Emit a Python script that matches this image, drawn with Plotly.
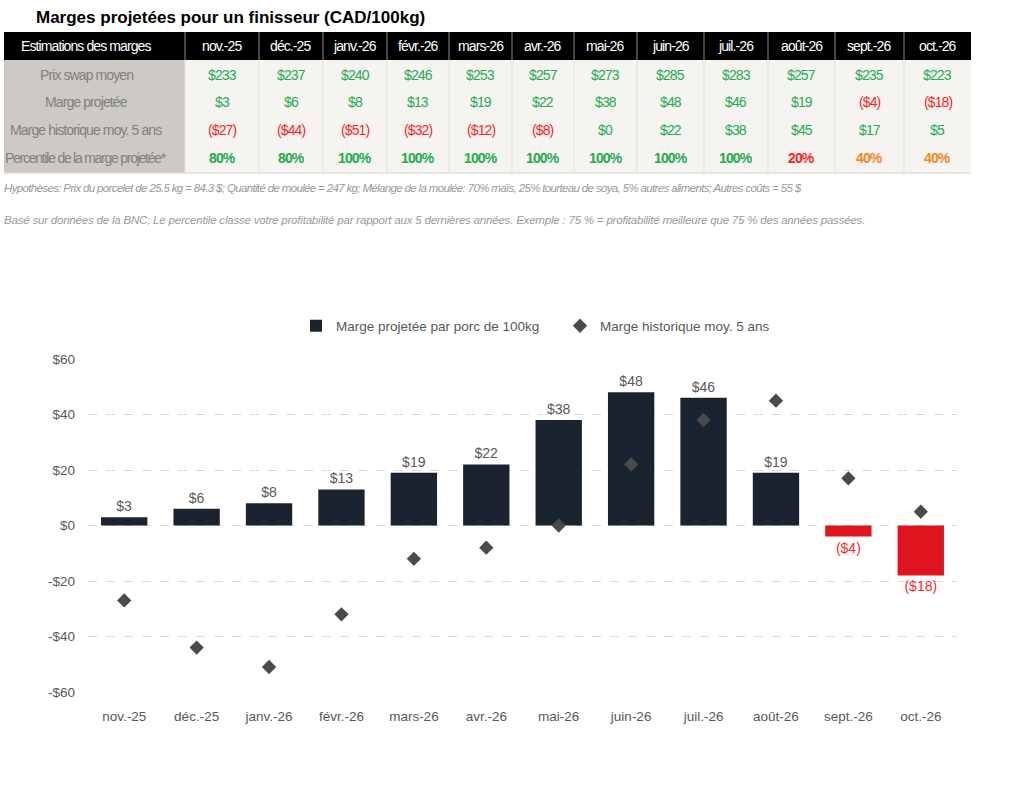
import plotly.graph_objects as go

W, H = 1024, 797

# ---------------- data ----------------
months = ["nov.-25", "déc.-25", "janv.-26", "févr.-26", "mars-26", "avr.-26",
          "mai-26", "juin-26", "juil.-26", "août-26", "sept.-26", "oct.-26"]
swap_price = [233, 237, 240, 246, 253, 257, 273, 285, 283, 257, 235, 223]
margin_proj = [3, 6, 8, 13, 19, 22, 38, 48, 46, 19, -4, -18]
margin_hist = [-27, -44, -51, -32, -12, -8, 0, 22, 38, 45, 17, 5]
percentile = [80, 80, 100, 100, 100, 100, 100, 100, 100, 20, 40, 40]
row_labels = ["Prix swap moyen", "Marge projetée", "Marge historique moy. 5 ans",
              "Percentile de la marge projetée*"]
y_ticks = [-60, -40, -20, 0, 20, 40, 60]

title = "Marges projetées pour un finisseur (CAD/100kg)"
header_label = "Estimations des marges"
note1 = ("Hypothèses: Prix du porcelet de 25.5 kg = 84.3 $; Quantité de moulée = 247 kg; "
         "Mélange de la moulée: 70% maïs, 25% tourteau de soya, 5% autres aliments; Autres coûts = 55 $")
note2 = ("Basé sur données de la BNC; Le percentile classe votre profitabilité par rapport aux "
         "5 dernières années. Exemple : 75 % = profitabilité meilleure que 75 % des années passées.")
legend_bar = "Marge projetée par porc de 100kg"
legend_pt = "Marge historique moy. 5 ans"

# ---------------- styles ----------------
SANS = "Liberation Sans, Arial, sans-serif"
GREEN = "#21ad4f"
RED = "#ff1f1f"
ORANGE = "#f7861e"
NAVY = "#1a2430"
BAR_RED = "#e0141e"
GREY_TXT = "#595959"


def money(v):
    return f"(${abs(v)})" if v < 0 else f"${v}"


def tight(t, ls):
    return f'<span style="letter-spacing:{ls}px">{t}</span>'


def px_x(p):
    return p / W


def px_y(p):
    return 1 - p / H


fig = go.Figure()

bar_colors = [BAR_RED if v < 0 else NAVY for v in margin_proj]
lab_colors = [RED if v < 0 else GREY_TXT for v in margin_proj]
fig.add_trace(go.Bar(
    x=months, y=margin_proj, name=legend_bar,
    marker=dict(color=bar_colors, line=dict(width=0)),
    text=[money(v) for v in margin_proj], textposition="outside",
    textfont=dict(color=lab_colors, size=14, family=SANS),
    cliponaxis=False,
))
fig.add_trace(go.Scatter(
    x=months, y=margin_hist, name=legend_pt, mode="markers",
    marker=dict(symbol="diamond", size=11, color="#4a4a4a"),
    cliponaxis=False,
))

shapes = []
annotations = []

# title
annotations.append(dict(xref="paper", yref="paper", x=px_x(34), y=px_y(17), xanchor="left",
                        yanchor="middle", text=f"<b>{title}</b>", showarrow=False,
                        font=dict(family=SANS, size=17, color="#000000")))

# table geometry (pixels)
col_edges = [4, 185, 259, 323, 387, 449, 512, 574, 637, 704, 768, 835, 904, 971]
head_top, head_bot = 32, 60
row_edges = [60, 88, 116, 145, 173]
row_cy = [75, 102, 130, 158]
label_cx = 86
label_ls = [-0.9, -0.9, -0.9, -1.25]
TFS = 14
TLS = -0.9


def rect(x0, x1, y0, y1, color):
    return dict(type="rect", xref="paper", yref="paper", x0=px_x(x0), x1=px_x(x1),
                y0=px_y(y1), y1=px_y(y0), fillcolor=color, line=dict(width=0), layer="above")


def vline(x, y0, y1, color, w=1):
    return dict(type="line", xref="paper", yref="paper", x0=px_x(x), x1=px_x(x),
                y0=px_y(y1), y1=px_y(y0), line=dict(color=color, width=w), layer="above")


shapes.append(rect(col_edges[0], col_edges[-1], head_top, head_bot, "#000000"))
shapes.append(rect(col_edges[0], col_edges[1], row_edges[0], row_edges[-1], "#cdc9c4"))
shapes.append(rect(col_edges[1], col_edges[-1], row_edges[0], row_edges[-1], "#f6f4f0"))
shapes.append(dict(type="line", xref="paper", yref="paper", x0=px_x(col_edges[0]), x1=px_x(col_edges[-1]),
                   y0=px_y(row_edges[-1]), y1=px_y(row_edges[-1]), line=dict(color="#e2dfdb", width=1.5),
                   layer="above"))
for e in col_edges[1:-1]:
    shapes.append(vline(e, head_top, head_bot, "#8a8a8a"))
    shapes.append(vline(e, row_edges[0], row_edges[-1], "#e4e1dc"))


def cell_text(cx, cy, t, color, bold=False, ls=TLS):
    txt = tight(t, ls)
    if bold:
        txt = f"<b>{txt}</b>"
    return dict(xref="paper", yref="paper", x=px_x(cx), y=px_y(cy), text=txt, showarrow=False,
                xanchor="center", yanchor="middle", font=dict(family=SANS, size=TFS, color=color))


head_cy = (head_top + head_bot) / 2
annotations.append(cell_text(label_cx, head_cy, header_label, "#ffffff"))
for i, m in enumerate(months):
    cx = (col_edges[i + 1] + col_edges[i + 2]) / 2
    annotations.append(cell_text(cx, head_cy, m, "#ffffff"))


def money_color(v):
    return RED if v < 0 else GREEN


def pct_color(p):
    if p <= 20:
        return RED
    if p <= 40:
        return ORANGE
    return GREEN


rows = [
    ([money(v) for v in swap_price], [GREEN] * len(swap_price), False),
    ([money(v) for v in margin_proj], [money_color(v) for v in margin_proj], False),
    ([money(v) for v in margin_hist], [money_color(v) for v in margin_hist], False),
    ([f"{p}%" for p in percentile], [pct_color(p) for p in percentile], True),
]
for r, (texts, colors, bold) in enumerate(rows):
    cy = row_cy[r]
    annotations.append(cell_text(label_cx, cy, row_labels[r], "#808080", ls=label_ls[r]))
    for i, t in enumerate(texts):
        cx = (col_edges[i + 1] + col_edges[i + 2]) / 2
        annotations.append(cell_text(cx, cy, t, colors[i], bold))

# notes
annotations.append(dict(xref="paper", yref="paper", x=px_x(2), y=px_y(188), xanchor="left", yanchor="middle",
                        text=f"<i>{tight(note1, -0.65)}</i>", showarrow=False,
                        font=dict(family=SANS, size=11.5, color="#9a9a9a")))
annotations.append(dict(xref="paper", yref="paper", x=px_x(2), y=px_y(220), xanchor="left", yanchor="middle",
                        text=f"<i>{tight(note2, -0.2)}</i>", showarrow=False,
                        font=dict(family=SANS, size=11.5, color="#9a9a9a")))

fig.update_layout(
    width=W, height=H,
    margin=dict(l=0, r=0, t=0, b=0, autoexpand=False),
    paper_bgcolor="#ffffff", plot_bgcolor="#ffffff",
    showlegend=True,
    legend=dict(orientation="h", x=px_x(296), xanchor="left", y=px_y(326), yanchor="middle",
                font=dict(family=SANS, size=13.5, color=GREY_TXT), itemwidth=30,
                entrywidth=219, entrywidthmode="pixels",
                bgcolor="rgba(0,0,0,0)", traceorder="normal"),
    bargap=0.36,
    xaxis=dict(domain=[px_x(88), px_x(957)], range=[-0.5, 11.5], autorange=False,
               showgrid=False, showline=False, ticks="", automargin=False, ticklabelstandoff=14,
               tickfont=dict(family=SANS, size=13.5, color=GREY_TXT)),
    yaxis=dict(domain=[px_y(692), px_y(359)], range=[-60, 60], autorange=False, tickvals=y_ticks,
               ticktext=[("-$" + str(abs(v))) if v < 0 else f"${v}" for v in y_ticks],
               showgrid=True, gridcolor="#d9d9d9", griddash="dash", gridwidth=1,
               zeroline=False, showline=False, ticks="", ticklabelstandoff=12, automargin=False,
               tickfont=dict(family=SANS, size=13.5, color=GREY_TXT)),
    shapes=shapes,
    annotations=annotations,
    font=dict(family=SANS),
)

fig.write_html("out.html", config={"displayModeBar": False},
               post_script="document.body.style.margin='0px';")
